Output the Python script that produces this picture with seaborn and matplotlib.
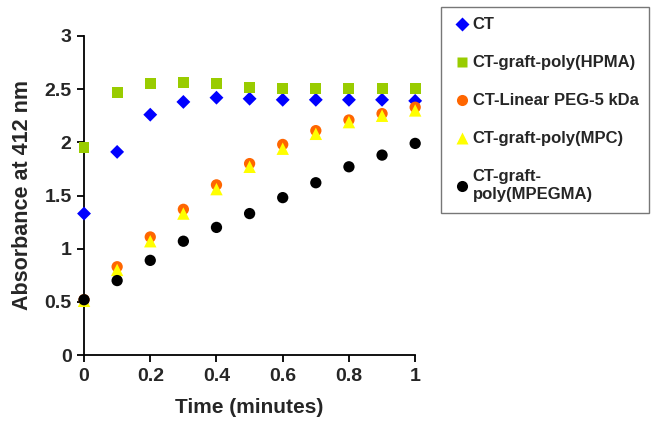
import matplotlib
matplotlib.use("Agg")
import matplotlib.pyplot as plt
import seaborn as sns
import pandas as pd
from matplotlib.lines import Line2D

time_min = [0, 0.1, 0.2, 0.3, 0.4, 0.5, 0.6, 0.7, 0.8, 0.9, 1.0]
ct = [1.33, 1.91, 2.26, 2.38, 2.42, 2.41, 2.40, 2.40, 2.40, 2.40, 2.39]
hpma = [1.95, 2.47, 2.55, 2.56, 2.55, 2.52, 2.51, 2.51, 2.51, 2.51, 2.51]
peg = [0.52, 0.83, 1.11, 1.37, 1.60, 1.80, 1.98, 2.11, 2.21, 2.27, 2.33]
mpc = [0.51, 0.80, 1.07, 1.33, 1.56, 1.77, 1.94, 2.08, 2.19, 2.25, 2.30]
mpegma = [0.52, 0.70, 0.89, 1.07, 1.20, 1.33, 1.48, 1.62, 1.77, 1.88, 1.99]

series_names = ["CT", "CT-graft-poly(HPMA)", "CT-Linear PEG-5 kDa",
                "CT-graft-poly(MPC)", "CT-graft-\npoly(MPEGMA)"]
series_values = [ct, hpma, peg, mpc, mpegma]
colors = ["#0000FF", "#99CC00", "#FF6600", "#FFFF00", "#000000"]
markers = ["D", "s", "o", "^", "o"]
sizes = [50, 62, 66, 80, 66]

x_ticks = [0, 0.2, 0.4, 0.6, 0.8, 1]
x_tick_labels = ["0", "0.2", "0.4", "0.6", "0.8", "1"]
y_ticks = [0, 0.5, 1, 1.5, 2, 2.5, 3]
y_tick_labels = ["0", "0.5", "1", "1.5", "2", "2.5", "3"]

sns.set_theme(style="white")
plt.rcParams["font.family"] = ["Liberation Sans", "DejaVu Sans"]
plt.rcParams["font.weight"] = "bold"

fig = plt.figure(figsize=(6.59, 4.25), dpi=100)
ax = fig.add_axes([0.1275, 0.1647, 0.5025, 0.7506])

for name, vals, c, m, s in zip(series_names, series_values, colors, markers, sizes):
    df = pd.DataFrame({"t": time_min, "a": vals})
    sns.scatterplot(data=df, x="t", y="a", ax=ax, color=c, marker=m, s=s,
                    edgecolor="none", linewidth=0, clip_on=False, zorder=3)

ax.set_xlim(0, 1)
ax.set_ylim(0, 3)
ax.set_xticks(x_ticks)
ax.set_xticklabels(x_tick_labels)
ax.set_yticks(y_ticks)
ax.set_yticklabels(y_tick_labels)
ax.tick_params(axis="both", direction="out", length=5, width=1.3, color="black",
               labelsize=14, pad=4, left=True, bottom=True)
for lab in ax.get_xticklabels() + ax.get_yticklabels():
    lab.set_fontweight("bold")
for side in ["top", "right"]:
    ax.spines[side].set_visible(False)
for side in ["left", "bottom"]:
    ax.spines[side].set_color("black")
    ax.spines[side].set_linewidth(1.3)
ax.set_xlabel("Time (minutes)", fontsize=15, fontweight="bold", labelpad=10)
ax.set_ylabel("Absorbance at 412 nm", fontsize=15.5, fontweight="bold", labelpad=8)

handles = [Line2D([0], [0], marker=m, color="none", markerfacecolor=c,
                  markeredgecolor="none", markersize=ms)
           for c, m, ms in zip(colors, markers, [7, 7.5, 8, 8.5, 8])]
leg = fig.legend(handles, series_names, loc="upper left",
                 bbox_to_anchor=(0.669, 0.9835), frameon=True, fancybox=False,
                 prop={"family": ["Liberation Sans"], "weight": "bold", "size": 12},
                 labelspacing=1.38, handlelength=1.3, handletextpad=0.0,
                 borderpad=0.62, borderaxespad=0)
for t in leg.get_texts():
    t.set_linespacing(1.25)
leg.get_frame().set_edgecolor("#555555")
leg.get_frame().set_linewidth(1.0)

fig.savefig("out.png", dpi=100)
